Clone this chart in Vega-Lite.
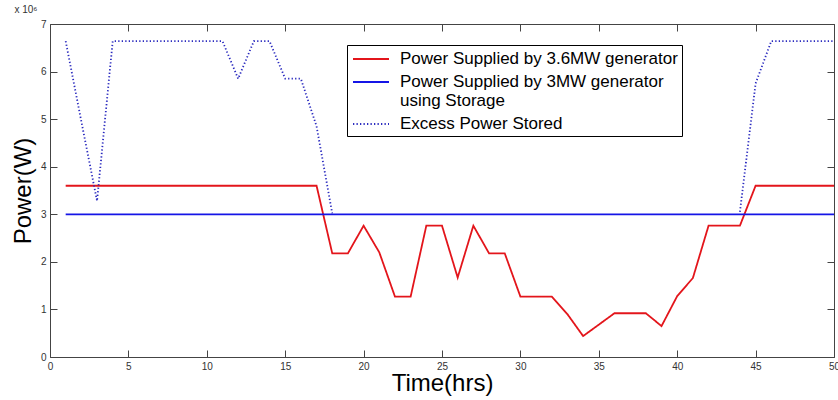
{
  "$schema": "https://vega.github.io/schema/vega-lite/v6.json",
  "width": 784,
  "height": 333,
  "autosize": "none",
  "padding": {"left": 50, "top": 24, "right": 4, "bottom": 43},
  "background": "white",
  "config": {"view": {"stroke": null}, "font": "Liberation Sans"},
  "title": {"text": "x 10⁶", "anchor": "start", "fontSize": 10, "fontWeight": "normal", "color": "#333", "offset": 4, "dx": 3},
  "data": {"values": [
    {"t":1,"p":3600000,"s":"Power Supplied by 3.6MW generator","g":"r"},
    {"t":2,"p":3600000,"s":"Power Supplied by 3.6MW generator","g":"r"},
    {"t":3,"p":3600000,"s":"Power Supplied by 3.6MW generator","g":"r"},
    {"t":4,"p":3600000,"s":"Power Supplied by 3.6MW generator","g":"r"},
    {"t":5,"p":3600000,"s":"Power Supplied by 3.6MW generator","g":"r"},
    {"t":6,"p":3600000,"s":"Power Supplied by 3.6MW generator","g":"r"},
    {"t":7,"p":3600000,"s":"Power Supplied by 3.6MW generator","g":"r"},
    {"t":8,"p":3600000,"s":"Power Supplied by 3.6MW generator","g":"r"},
    {"t":9,"p":3600000,"s":"Power Supplied by 3.6MW generator","g":"r"},
    {"t":10,"p":3600000,"s":"Power Supplied by 3.6MW generator","g":"r"},
    {"t":11,"p":3600000,"s":"Power Supplied by 3.6MW generator","g":"r"},
    {"t":12,"p":3600000,"s":"Power Supplied by 3.6MW generator","g":"r"},
    {"t":13,"p":3600000,"s":"Power Supplied by 3.6MW generator","g":"r"},
    {"t":14,"p":3600000,"s":"Power Supplied by 3.6MW generator","g":"r"},
    {"t":15,"p":3600000,"s":"Power Supplied by 3.6MW generator","g":"r"},
    {"t":16,"p":3600000,"s":"Power Supplied by 3.6MW generator","g":"r"},
    {"t":17,"p":3600000,"s":"Power Supplied by 3.6MW generator","g":"r"},
    {"t":18,"p":2180000,"s":"Power Supplied by 3.6MW generator","g":"r"},
    {"t":19,"p":2180000,"s":"Power Supplied by 3.6MW generator","g":"r"},
    {"t":20,"p":2760000,"s":"Power Supplied by 3.6MW generator","g":"r"},
    {"t":21,"p":2200000,"s":"Power Supplied by 3.6MW generator","g":"r"},
    {"t":22,"p":1270000,"s":"Power Supplied by 3.6MW generator","g":"r"},
    {"t":23,"p":1270000,"s":"Power Supplied by 3.6MW generator","g":"r"},
    {"t":24,"p":2760000,"s":"Power Supplied by 3.6MW generator","g":"r"},
    {"t":25,"p":2760000,"s":"Power Supplied by 3.6MW generator","g":"r"},
    {"t":26,"p":1670000,"s":"Power Supplied by 3.6MW generator","g":"r"},
    {"t":27,"p":2760000,"s":"Power Supplied by 3.6MW generator","g":"r"},
    {"t":28,"p":2180000,"s":"Power Supplied by 3.6MW generator","g":"r"},
    {"t":29,"p":2180000,"s":"Power Supplied by 3.6MW generator","g":"r"},
    {"t":30,"p":1270000,"s":"Power Supplied by 3.6MW generator","g":"r"},
    {"t":31,"p":1270000,"s":"Power Supplied by 3.6MW generator","g":"r"},
    {"t":32,"p":1270000,"s":"Power Supplied by 3.6MW generator","g":"r"},
    {"t":33,"p":900000,"s":"Power Supplied by 3.6MW generator","g":"r"},
    {"t":34,"p":440000,"s":"Power Supplied by 3.6MW generator","g":"r"},
    {"t":35,"p":680000,"s":"Power Supplied by 3.6MW generator","g":"r"},
    {"t":36,"p":920000,"s":"Power Supplied by 3.6MW generator","g":"r"},
    {"t":37,"p":920000,"s":"Power Supplied by 3.6MW generator","g":"r"},
    {"t":38,"p":920000,"s":"Power Supplied by 3.6MW generator","g":"r"},
    {"t":39,"p":650000,"s":"Power Supplied by 3.6MW generator","g":"r"},
    {"t":40,"p":1280000,"s":"Power Supplied by 3.6MW generator","g":"r"},
    {"t":41,"p":1660000,"s":"Power Supplied by 3.6MW generator","g":"r"},
    {"t":42,"p":2760000,"s":"Power Supplied by 3.6MW generator","g":"r"},
    {"t":43,"p":2760000,"s":"Power Supplied by 3.6MW generator","g":"r"},
    {"t":44,"p":2760000,"s":"Power Supplied by 3.6MW generator","g":"r"},
    {"t":45,"p":3600000,"s":"Power Supplied by 3.6MW generator","g":"r"},
    {"t":46,"p":3600000,"s":"Power Supplied by 3.6MW generator","g":"r"},
    {"t":47,"p":3600000,"s":"Power Supplied by 3.6MW generator","g":"r"},
    {"t":48,"p":3600000,"s":"Power Supplied by 3.6MW generator","g":"r"},
    {"t":49,"p":3600000,"s":"Power Supplied by 3.6MW generator","g":"r"},
    {"t":50,"p":3600000,"s":"Power Supplied by 3.6MW generator","g":"r"},
    {"t":1,"p":3000000,"s":"Power Supplied by 3MW generator using Storage","g":"b"},
    {"t":5,"p":3000000,"s":"Power Supplied by 3MW generator using Storage","g":"b"},
    {"t":10,"p":3000000,"s":"Power Supplied by 3MW generator using Storage","g":"b"},
    {"t":15,"p":3000000,"s":"Power Supplied by 3MW generator using Storage","g":"b"},
    {"t":20,"p":3000000,"s":"Power Supplied by 3MW generator using Storage","g":"b"},
    {"t":25,"p":3000000,"s":"Power Supplied by 3MW generator using Storage","g":"b"},
    {"t":30,"p":3000000,"s":"Power Supplied by 3MW generator using Storage","g":"b"},
    {"t":35,"p":3000000,"s":"Power Supplied by 3MW generator using Storage","g":"b"},
    {"t":40,"p":3000000,"s":"Power Supplied by 3MW generator using Storage","g":"b"},
    {"t":45,"p":3000000,"s":"Power Supplied by 3MW generator using Storage","g":"b"},
    {"t":50,"p":3000000,"s":"Power Supplied by 3MW generator using Storage","g":"b"},
    {"t":1,"p":6640000,"s":"Excess Power Stored","g":"d1"},
    {"t":2,"p":4950000,"s":"Excess Power Stored","g":"d1"},
    {"t":3,"p":3280000,"s":"Excess Power Stored","g":"d1"},
    {"t":4,"p":6640000,"s":"Excess Power Stored","g":"d1"},
    {"t":5,"p":6640000,"s":"Excess Power Stored","g":"d1"},
    {"t":6,"p":6640000,"s":"Excess Power Stored","g":"d1"},
    {"t":7,"p":6640000,"s":"Excess Power Stored","g":"d1"},
    {"t":8,"p":6640000,"s":"Excess Power Stored","g":"d1"},
    {"t":9,"p":6640000,"s":"Excess Power Stored","g":"d1"},
    {"t":10,"p":6640000,"s":"Excess Power Stored","g":"d1"},
    {"t":11,"p":6640000,"s":"Excess Power Stored","g":"d1"},
    {"t":12,"p":5850000,"s":"Excess Power Stored","g":"d1"},
    {"t":13,"p":6640000,"s":"Excess Power Stored","g":"d1"},
    {"t":14,"p":6640000,"s":"Excess Power Stored","g":"d1"},
    {"t":15,"p":5850000,"s":"Excess Power Stored","g":"d1"},
    {"t":16,"p":5850000,"s":"Excess Power Stored","g":"d1"},
    {"t":17,"p":4850000,"s":"Excess Power Stored","g":"d1"},
    {"t":18,"p":3020000,"s":"Excess Power Stored","g":"d1"},
    {"t":44,"p":3050000,"s":"Excess Power Stored","g":"d2"},
    {"t":45,"p":5750000,"s":"Excess Power Stored","g":"d2"},
    {"t":46,"p":6640000,"s":"Excess Power Stored","g":"d2"},
    {"t":47,"p":6640000,"s":"Excess Power Stored","g":"d2"},
    {"t":48,"p":6640000,"s":"Excess Power Stored","g":"d2"},
    {"t":49,"p":6640000,"s":"Excess Power Stored","g":"d2"},
    {"t":50,"p":6640000,"s":"Excess Power Stored","g":"d2"}
  ]},
  "layer": [
    {
      "mark": {"type": "line", "strokeWidth": 1.8},
      "encoding": {
        "x": {"field": "t", "type": "quantitative",
          "scale": {"domain": [0, 50], "nice": false, "zero": false},
          "axis": {"orient": "bottom", "values": [0,5,10,15,20,25,30,35,40,45,50], "grid": false,
            "tickSize": -7, "tickColor": "#444", "domainColor": "#444", "labelFontSize": 10, "labelColor": "#333",
            "labelPadding": 11, "labelFlush": false,
            "title": "Time(hrs)", "titleFontSize": 24, "titleFontWeight": "normal", "titleColor": "black", "titlePadding": 0}},
        "y": {"field": "p", "type": "quantitative",
          "scale": {"domain": [0, 7000000], "nice": false},
          "axis": {"orient": "left", "values": [0,1000000,2000000,3000000,4000000,5000000,6000000,7000000], "grid": false,
            "labelExpr": "format(datum.value/1000000, 'd')",
            "tickSize": -7, "tickColor": "#444", "domainColor": "#444", "labelFontSize": 10, "labelColor": "#333",
            "labelPadding": 11, "labelFlush": false,
            "title": "Power(W)", "titleFontSize": 24, "titleFontWeight": "normal", "titleColor": "black", "titlePadding": 5}},
        "color": {"field": "s", "type": "nominal",
          "sort": ["Power Supplied by 3.6MW generator", "Power Supplied by 3MW generator using Storage", "Excess Power Stored"],
          "scale": {"domain": ["Power Supplied by 3.6MW generator", "Power Supplied by 3MW generator using Storage", "Excess Power Stored"],
            "range": ["#e3151b", "#1515e6", "#2b2bbf"]},
          "legend": {"title": null, "orient": "none", "legendX": 297, "legendY": 21, "direction": "vertical",
            "strokeColor": "black", "fillColor": "white", "padding": 4, "rowPadding": 5,
            "symbolType": "M-2,0H2", "symbolSize": 324, "symbolStrokeWidth": 1.8, "symbolOffset": 10,
            "labelOffset": 19, "labelFontSize": 17, "labelColor": "black", "labelLimit": 500,
            "labelExpr": "datum.label == 'Power Supplied by 3MW generator using Storage' ? ['Power Supplied by 3MW generator', 'using Storage'] : datum.label"}},
        "strokeDash": {"field": "s", "type": "nominal",
          "sort": ["Power Supplied by 3.6MW generator", "Power Supplied by 3MW generator using Storage", "Excess Power Stored"],
          "scale": {"domain": ["Power Supplied by 3.6MW generator", "Power Supplied by 3MW generator using Storage", "Excess Power Stored"],
            "range": [[1, 0], [1, 0], [1.3, 2.2]]},
          "legend": {"title": null, "orient": "none", "legendX": 297, "legendY": 21, "direction": "vertical",
            "strokeColor": "black", "fillColor": "white", "padding": 4, "rowPadding": 5,
            "symbolType": "M-2,0H2", "symbolSize": 324, "symbolStrokeWidth": 1.8, "symbolOffset": 10,
            "labelOffset": 19, "labelFontSize": 17, "labelColor": "black", "labelLimit": 500,
            "labelExpr": "datum.label == 'Power Supplied by 3MW generator using Storage' ? ['Power Supplied by 3MW generator', 'using Storage'] : datum.label"}},
        "detail": {"field": "g", "type": "nominal"}
      }
    },
    {
      "mark": {"type": "point", "opacity": 0},
      "encoding": {
        "x": {"datum": 0, "type": "quantitative",
          "axis": {"orient": "top", "values": [0,5,10,15,20,25,30,35,40,45,50], "grid": false, "labels": false,
            "tickSize": -7, "tickColor": "#444", "domainColor": "#444", "title": null}},
        "y": {"datum": 0, "type": "quantitative",
          "axis": {"orient": "right", "values": [0,1000000,2000000,3000000,4000000,5000000,6000000,7000000], "grid": false, "labels": false,
            "tickSize": -7, "tickColor": "#444", "domainColor": "#444", "title": null}}
      }
    }
  ],
  "resolve": {"axis": {"x": "independent", "y": "independent"}}
}
